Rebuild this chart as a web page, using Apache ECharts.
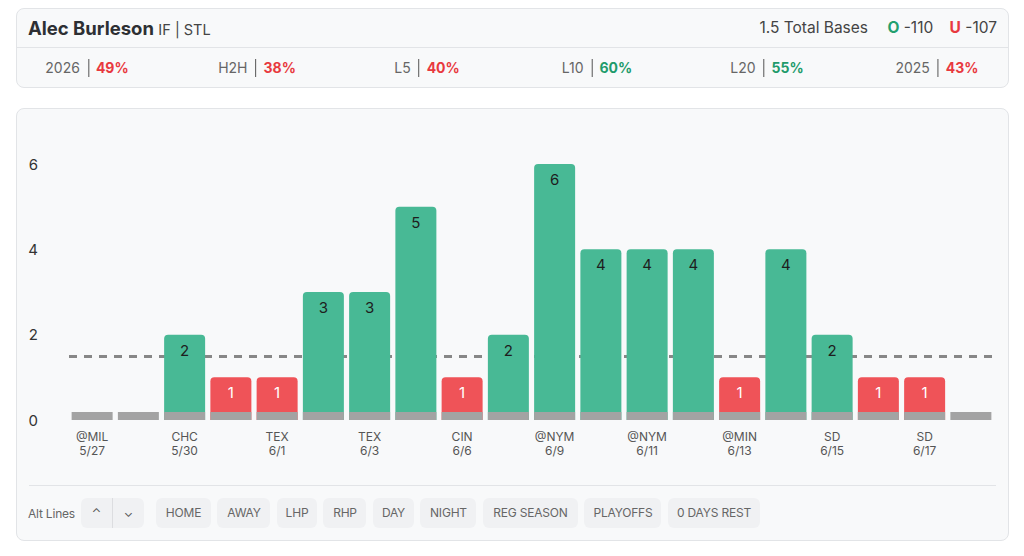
<!DOCTYPE html>
<html>
<head>
<meta charset="utf-8">
<script src="https://cdn.jsdelivr.net/npm/echarts@6/dist/echarts.min.js"></script>
<style>
  html, body { margin: 0; padding: 0; background: #fff; }
  body { width: 1024px; height: 556px; position: relative; overflow: hidden;
         font-family: Inter, "Noto Sans", sans-serif; color: #333; }
  .card { position: absolute; left: 16px; width: 991px; background: #f8f9fa;
          border: 1px solid #e2e4e7; border-radius: 8px; }
  #head { top: 8px; height: 78px; }
  #head .top { height: 38px; border-bottom: 1px solid #e2e4e7; position: relative; }
  #head .name { position: absolute; left: 11px; top: 8px; font-size: 18.5px; font-weight: 700; color: #2d2f33; }
  #head .name span { font-size: 14.5px; font-weight: 400; color: #444; }
  #head .line { position: absolute; right: 11px; top: 9px; font-size: 15.5px; color: #444; }
  #head .line b { font-weight: 700; }
  .o { color: #22a06e; margin-left: 15px; }
  .u { color: #e8393f; margin-left: 12px; }
  .stat { position: absolute; top: 59px; font-size: 14px; color: #666; transform: translateX(-50%); white-space: nowrap; }
  .stat .sep { display: inline-block; width: 1px; height: 18px; background: #555; vertical-align: -4px; margin: 0 7px 0 8px; }
  .stat b { font-weight: 700; }
  .red { color: #e8393f; }
  .grn { color: #1f9b6b; }
  #panel { top: 108px; height: 431px; }
  #chart { position: absolute; left: 0; top: 0; width: 991px; height: 377px; }
  #panel .div { position: absolute; left: 12px; right: 12px; top: 376px; height: 1px; background: #e2e4e7; }
  #btns { position: absolute; left: 11px; top: 389px; height: 30px; display: flex; align-items: center; }
  #btns .lbl { font-size: 12px; color: #666; margin-right: 6px; letter-spacing: -0.2px; }
  .chev { display: flex; height: 30px; background: #f0f1f3; border-radius: 6px; margin-right: 12px; }
  .chev div { width: 31px; text-align: center; line-height: 30px; font-size: 12px; color: #555; }
  .chev div + div { border-left: 1px solid #dcdde0; }
  .btn { height: 30px; line-height: 30px; background: #f0f1f3; border-radius: 6px; text-align: center;
         font-size: 12px; color: #666; margin-right: 6.5px; letter-spacing: -0.2px; white-space: nowrap; }
</style>
</head>
<body>
<div class="card" id="head">
  <div class="top">
    <div class="name">Alec Burleson <span>IF | STL</span></div>
    <div class="line">1.5 Total Bases <b class="o">O</b> -110 <b class="u">U</b> -107</div>
  </div>
</div>
<div id="stats"></div>
<div class="card" id="panel">
  <div id="chart"></div>
  <div class="div"></div>
  <div id="btns">
    <div class="lbl">Alt Lines</div>
    <div class="chev"><div>&#8963;</div><div>&#8964;</div></div>
  </div>
</div>
<script>
// header stats
const statLabels = ['2026', 'H2H', 'L5', 'L10', 'L20', '2025'];
const statValues = [49, 38, 40, 60, 55, 43];
const statUp = [false, false, false, true, true, false];

// game log (odd entries have no visible label)
const teams = ['@MIL', '', 'CHC', '', 'TEX', '', 'TEX', '', 'CIN', '', '@NYM', '', '@NYM', '', '@MIN', '', 'SD', '', 'SD', ''];
const dates = ['5/27', '', '5/30', '', '6/1', '', '6/3', '', '6/6', '', '6/9', '', '6/11', '', '6/13', '', '6/15', '', '6/17', ''];
const totalBases = [0, 0, 2, 1, 1, 3, 3, 5, 1, 2, 6, 4, 4, 4, 1, 4, 2, 1, 1, 0];
const propLine = 1.5;

const altButtons = ['HOME', 'AWAY', 'LHP', 'RHP', 'DAY', 'NIGHT', 'REG SEASON', 'PLAYOFFS', '0 DAYS REST'];
const altButtonWidths = [55, 53, 40, 43, 41, 56, 95, 77, 92];

const statBox = document.getElementById('stats');
statLabels.forEach((s, i) => {
  const d = document.createElement('div');
  d.className = 'stat';
  d.style.left = (87 + 170 * i) + 'px';
  d.innerHTML = s + '<span class="sep"></span><b class="' + (statUp[i] ? 'grn' : 'red') + '">' + statValues[i] + '%</b>';
  statBox.appendChild(d);
});
const btnBox = document.getElementById('btns');
altButtons.forEach((t, i) => {
  const d = document.createElement('div');
  d.className = 'btn';
  d.style.width = altButtonWidths[i] + 'px';
  d.textContent = t;
  btnBox.appendChild(d);
});

const GREEN = '#48b995';
const RED = '#ef5358';
const GRAY = '#a3a3a3';

const categories = teams.map((t, i) => t + '\n' + dates[i]);

const chart = echarts.init(document.getElementById('chart'), null, { renderer: 'svg' });
chart.setOption({
  animation: false,
  grid: { left: 52, right: 14, top: 55, bottom: 66 },
  xAxis: {
    type: 'category',
    data: categories,
    axisLine: { show: false },
    axisTick: { show: false },
    axisLabel: { interval: 1, margin: 9, fontSize: 12, lineHeight: 14, color: '#555', fontFamily: 'Inter' }
  },
  yAxis: {
    type: 'value',
    min: 0, max: 6, interval: 2,
    splitLine: { show: false },
    axisLabel: { margin: 31, fontSize: 15, color: '#333', fontFamily: 'Inter' }
  },
  series: [
    {
      type: 'line',
      data: [],
      z: 1,
      markLine: {
        z: 1,
        silent: true,
        symbol: 'none',
        label: { show: false },
        lineStyle: { color: '#878787', width: 3, type: [8, 7] },
        data: [{ yAxis: propLine }]
      }
    },
    {
      type: 'bar',
      z: 6,
      barWidth: 41,
      data: totalBases.map(v => ({
        value: v,
        itemStyle: { color: v > propLine ? GREEN : RED, borderRadius: [4, 4, 0, 0] },
        label: { color: v > propLine ? '#1e1e1e' : '#fff' }
      })),
      label: {
        show: true,
        position: 'insideTop',
        distance: 8,
        fontSize: 15,
        fontFamily: 'Inter',
        formatter: p => (p.value > 0 ? p.value : '')
      }
    },
    {
      type: 'bar',
      z: 7,
      barWidth: 41,
      barGap: '-100%',
      barMinHeight: 8,
      itemStyle: { color: GRAY },
      data: totalBases.map(() => 0)
    }
  ]
});
</script>
</body>
</html>
